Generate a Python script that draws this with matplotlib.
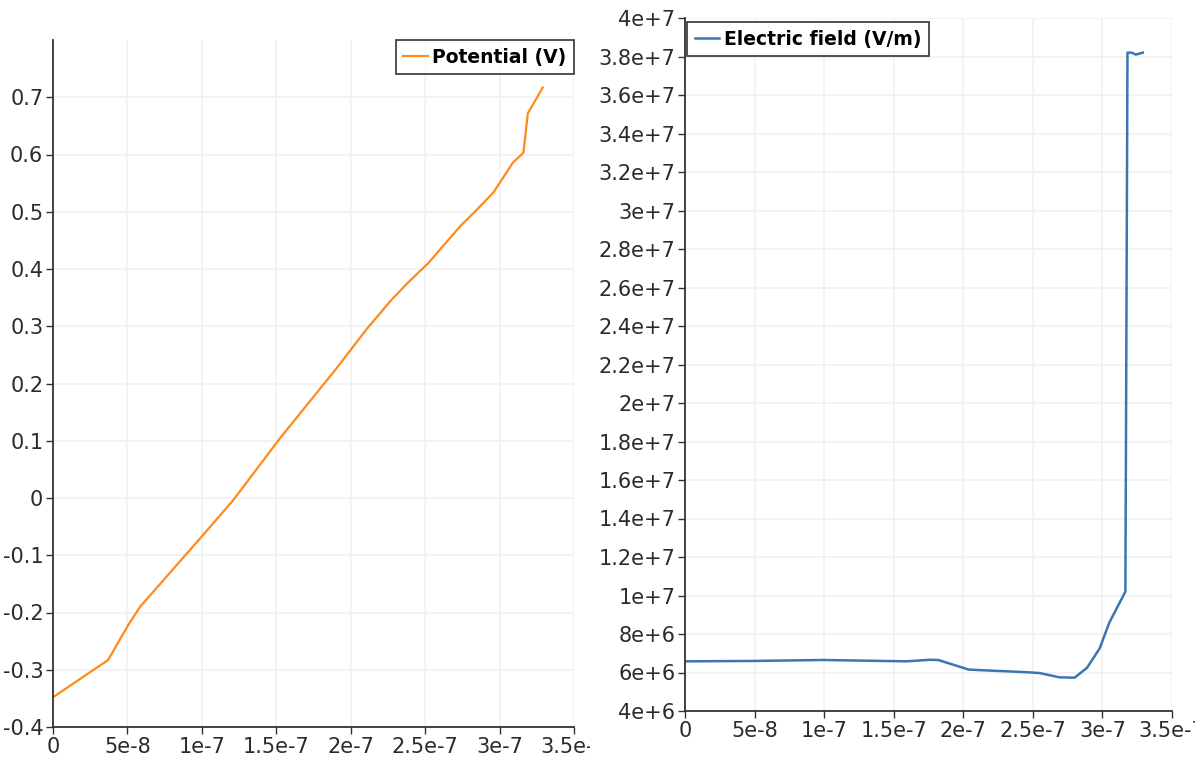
import numpy as np
import matplotlib.pyplot as plt
from matplotlib.transforms import Bbox, TransformedBbox

# potential along the line (left panel)
pot_x = [0, 3.7e-8, 5.05e-8, 5.85e-8, 9.9e-8, 12.1e-8, 15.3e-8, 19.0e-8, 21.1e-8,
         22.7e-8, 23.8e-8, 25.2e-8, 27.4e-8, 28.3e-8, 29.6e-8, 30.9e-8, 31.6e-8,
         31.9e-8, 32.9e-8]
pot_y = [-0.348, -0.283, -0.222, -0.19, -0.07, -0.004, 0.106, 0.225, 0.296,
         0.345, 0.375, 0.41, 0.476, 0.499, 0.534, 0.586, 0.603, 0.672, 0.717]

# electric field along the line (right panel)
ef_x = [0, 5.0e-8, 9.9e-8, 15.9e-8, 17.6e-8, 18.2e-8, 20.4e-8, 24.7e-8, 25.5e-8,
        26.9e-8, 28.0e-8, 28.9e-8, 29.8e-8, 30.5e-8, 31.65e-8, 31.8e-8, 32.1e-8,
        32.4e-8, 32.9e-8]
ef_y = [6.58e6, 6.6e6, 6.65e6, 6.58e6, 6.66e6, 6.65e6, 6.15e6, 6.01e6, 5.97e6,
        5.75e6, 5.73e6, 6.25e6, 7.25e6, 8.6e6, 10.2e6, 38.2e6, 38.2e6, 38.1e6, 38.2e6]

x_ticks = [0, 5e-8, 1e-7, 1.5e-7, 2e-7, 2.5e-7, 3e-7, 3.5e-7]
x_labels = ['0', '5e-8', '1e-7', '1.5e-7', '2e-7', '2.5e-7', '3e-7', '3.5e-7']
pot_ticks = [-0.4, -0.3, -0.2, -0.1, 0, 0.1, 0.2, 0.3, 0.4, 0.5, 0.6, 0.7]
pot_labels = ['-0.4', '-0.3', '-0.2', '-0.1', '0', '0.1', '0.2', '0.3', '0.4',
              '0.5', '0.6', '0.7']
ef_ticks = [4e6, 6e6, 8e6, 1e7, 1.2e7, 1.4e7, 1.6e7, 1.8e7, 2e7, 2.2e7, 2.4e7,
            2.6e7, 2.8e7, 3e7, 3.2e7, 3.4e7, 3.6e7, 3.8e7, 4e7]
ef_labels = ['4e+6', '6e+6', '8e+6', '1e+7', '1.2e+7', '1.4e+7', '1.6e+7', '1.8e+7',
             '2e+7', '2.2e+7', '2.4e+7', '2.6e+7', '2.8e+7', '3e+7', '3.2e+7',
             '3.4e+7', '3.6e+7', '3.8e+7', '4e+7']

W, H = 1195, 759
fig = plt.figure(figsize=(W / 100, H / 100), dpi=100)
ax1 = fig.add_axes([53 / W, 32 / H, (574 - 53) / W, (727 - 40) / H])
ax2 = fig.add_axes([685 / W, 48 / H, (1172 - 685) / W, (711 - 18) / H])


def style_axes(ax):
    for s in ['top', 'right']:
        ax.spines[s].set_visible(False)
    for s in ['left', 'bottom']:
        ax.spines[s].set_color('#333333')
        ax.spines[s].set_linewidth(1.3)
    ax.grid(True, color='#f1f1f1', linewidth=1.2)
    ax.set_axisbelow(True)
    ax.tick_params(direction='out', length=5, width=1, color='#333333',
                   labelsize=15, labelcolor='#2b2b2b', pad=2)


leg_font = {'weight': 'bold', 'size': 13.5}

ax1.plot(pot_x, pot_y, color='#ff8a1c', linewidth=1.6, label='Potential (V)')
ax1.set_xlim(0, 3.5e-7)
ax1.set_ylim(-0.4, 0.8)
ax1.set_xticks(x_ticks, x_labels)
ax1.set_yticks(pot_ticks, pot_labels)
style_axes(ax1)
leg1 = ax1.legend(loc='upper right', borderaxespad=0, fancybox=False,
                  edgecolor='black', handlelength=1.3, handletextpad=0.25,
                  borderpad=0.4, prop=leg_font)
leg1.get_frame().set_linewidth(1.2)

ax2.plot(ef_x, ef_y, color='#3b76b0', linewidth=1.8, label='Electric field (V/m)')
ax2.set_xlim(0, 3.5e-7)
ax2.set_ylim(4e6, 4e7)
ax2.set_xticks(x_ticks, x_labels)
ax2.set_yticks(ef_ticks, ef_labels)
style_axes(ax2)
leg2 = ax2.legend(loc='upper left', bbox_to_anchor=(0.005, 0.994), borderaxespad=0,
                  fancybox=False, edgecolor='black', handlelength=1.3,
                  handletextpad=0.25, borderpad=0.4, prop=leg_font)
leg2.get_frame().set_linewidth(1.2)

# the last left tick label is cut at the panel border, as in the original
clip = TransformedBbox(Bbox([[0, 0], [590 / W, 1]]), fig.transFigure)
for lab in ax1.get_xticklabels():
    lab.set_clip_box(clip)
    lab.set_clip_on(True)

fig.savefig('out.png', dpi=100)
